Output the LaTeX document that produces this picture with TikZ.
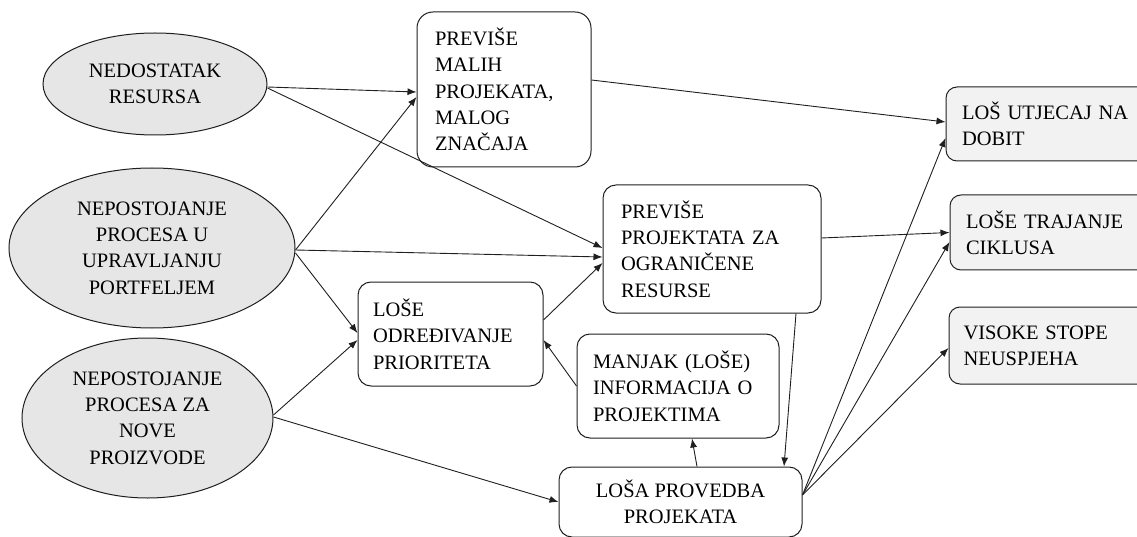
\documentclass[tikz,border=0pt]{standalone}
\usepackage{fontspec}
\setmainfont{Liberation Serif}
\newfontfamily\diagfont{Liberation Serif}
\usetikzlibrary{shapes.geometric,arrows.meta}
\definecolor{ellgray}{HTML}{E6E6E6}
\definecolor{boxgray}{HTML}{F2F2F2}
\definecolor{linecol}{HTML}{1F1F1F}
\begin{document}
\begin{tikzpicture}[x=1pt,y=-1pt,
  every node/.style={font=\diagfont\fontsize{20.5}{26.3}\selectfont},
  cause/.style={ellipse,draw=linecol,line width=1pt,fill=ellgray,inner sep=0pt,align=center},
  midbox/.style={rectangle,rounded corners=13pt,draw=linecol,line width=1pt,fill=white,inner sep=0pt,align=left},
  effbox/.style={rectangle,rounded corners=11pt,draw=linecol,line width=1pt,fill=boxgray,inner sep=0pt,align=left},
  conn/.style={draw=linecol,line width=0.9pt,-{Latex[length=9pt,width=7pt]}}]
\useasboundingbox (0,0) rectangle (1137,537);
% causes
\node[cause,minimum width=224pt,minimum height=102pt] (E1) at (155,84) {NEDOSTATAK\\RESURSA};
\node[cause,minimum width=286pt,minimum height=160pt] (E2) at (152,248) {NEPOSTOJANJE\\PROCESA U\\UPRAVLJANJU\\PORTFELJEM};
\node[cause,minimum width=251pt,minimum height=160pt] (E3) at (147.5,418) {NEPOSTOJANJE\\PROCESA ZA\\NOVE\\PROIZVODE};
% middle boxes
\node[midbox,rounded corners=16pt,minimum width=174pt,minimum height=155pt,text width=138pt] (B1) at (504,89.5) {PREVIŠE\\MALIH\\PROJEKATA,\\MALOG\\ZNAČAJA};
\node[midbox,minimum width=218pt,minimum height=128pt,text width=182pt] (B2) at (712,249) {PREVIŠE\\PROJEKTATA ZA\\OGRANIČENE\\RESURSE};
\node[midbox,minimum width=185pt,minimum height=104pt,text width=155pt] (B3) at (450.5,334) {LOŠE\\ODREĐIVANJE\\PRIORITETA};
\node[midbox,minimum width=202pt,minimum height=104pt,text width=170pt] (B4) at (678,386) {MANJAK (LOŠE)\\INFORMACIJA O\\PROJEKTIMA};
\node[midbox,align=center,minimum width=243pt,minimum height=70pt] (B5) at (680.5,502) {LOŠA PROVEDBA\\PROJEKATA};
% effects
\node[effbox,minimum width=204pt,minimum height=74pt,text width=172pt] (R1) at (1048,124) {LOŠ UTJECAJ NA\\DOBIT};
\node[effbox,minimum width=200pt,minimum height=75pt,text width=168pt] (R2) at (1050,232.5) {LOŠE TRAJANJE\\CIKLUSA};
\node[effbox,minimum width=202pt,minimum height=77pt,text width=173pt] (R3) at (1050,345.5) {VISOKE STOPE\\NEUSPJEHA};
% connectors
\draw[conn] ([yshift=-3pt]E1.east) -- ([yshift=-2.5pt]B1.west);
\draw[conn] ([yshift=-4pt]E1.east) -- ([yshift=1pt]B2.west);
\draw[conn] ([yshift=-2pt]E2.east) -- ([yshift=-7.5pt]B1.west);
\draw[conn] ([yshift=-2pt]E2.east) -- ([yshift=-8pt]B2.west);
\draw[conn] ([yshift=-5pt]E2.east) -- ([yshift=1pt]B3.west);
\draw[conn] ([yshift=3pt]E3.east) -- ([yshift=-6pt]B3.west);
\draw[conn] ([yshift=1pt]E3.east) -- (B5.west);
\draw[conn] ([yshift=14pt]B3.east) -- ([yshift=-14pt]B2.west);
\draw[conn] (B4.west) -- ([yshift=-6pt]B3.east);
\draw[conn] ([xshift=16.5pt]B5.north) -- ([xshift=14pt]B4.south);
\draw[conn] ([xshift=84pt]B2.south) -- ([xshift=103.5pt]B5.north);
\draw[conn] ([yshift=9.5pt]B1.east) -- ([yshift=2pt]R1.west);
\draw[conn] ([yshift=11pt]B2.east) -- (R2.west);
\draw[conn] ([yshift=7pt]B5.east) -- ([yshift=-14pt]R1.west);
\draw[conn] ([yshift=7pt]B5.east) -- ([yshift=-9.5pt]R2.west);
\draw[conn] ([yshift=7pt]B5.east) -- ([yshift=-2.5pt]R3.west);
\end{tikzpicture}
\end{document}
